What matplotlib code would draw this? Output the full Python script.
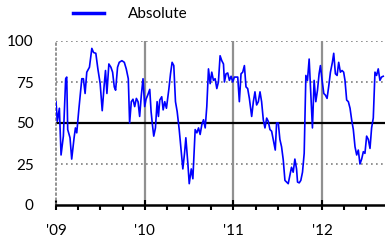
import matplotlib
matplotlib.use('Agg')
import matplotlib.pyplot as plt
from matplotlib.ticker import FixedLocator, MultipleLocator

plt.rcParams['font.family'] = ['Lato', 'DejaVu Sans']

# time in decimal years
years = [
    2009.000, 2009.015, 2009.038, 2009.057, 2009.083, 2009.109, 2009.121, 2009.132,
    2009.158, 2009.177, 2009.204, 2009.219, 2009.234, 2009.257, 2009.291, 2009.309,
    2009.328, 2009.347, 2009.377, 2009.404, 2009.423, 2009.449, 2009.472, 2009.498,
    2009.521, 2009.543, 2009.558, 2009.574, 2009.596, 2009.619, 2009.638, 2009.657,
    2009.672, 2009.694, 2009.713, 2009.743, 2009.770, 2009.792, 2009.815, 2009.830,
    2009.849, 2009.868, 2009.887, 2009.906, 2009.925, 2009.943, 2009.962, 2009.981,
    2010.000, 2010.015, 2010.034, 2010.057, 2010.072, 2010.087, 2010.102, 2010.121,
    2010.140, 2010.155, 2010.170, 2010.192, 2010.208, 2010.226, 2010.245, 2010.272,
    2010.291, 2010.309, 2010.328, 2010.347, 2010.366, 2010.389, 2010.411, 2010.430,
    2010.449, 2010.464, 2010.487, 2010.502, 2010.525, 2010.543, 2010.551, 2010.569,
    2010.588, 2010.607, 2010.625, 2010.644, 2010.663, 2010.682, 2010.700, 2010.719,
    2010.738, 2010.756, 2010.775, 2010.794, 2010.813, 2010.831, 2010.850, 2010.869,
    2010.888, 2010.899, 2010.917, 2010.936, 2010.955, 2010.974, 2010.992, 2011.011,
    2011.030, 2011.049, 2011.067, 2011.086, 2011.105, 2011.124, 2011.142, 2011.161,
    2011.180, 2011.206, 2011.225, 2011.243, 2011.262, 2011.281, 2011.300, 2011.318,
    2011.337, 2011.356, 2011.375, 2011.393, 2011.412, 2011.431, 2011.449, 2011.472,
    2011.487, 2011.506, 2011.524, 2011.543, 2011.562, 2011.581, 2011.599, 2011.618,
    2011.637, 2011.655, 2011.674, 2011.693, 2011.712, 2011.723, 2011.742, 2011.760,
    2011.779, 2011.798, 2011.817, 2011.835, 2011.854, 2011.873, 2011.891, 2011.910,
    2011.929, 2011.948, 2011.966, 2011.981, 2012.000, 2012.019, 2012.037, 2012.056,
    2012.075, 2012.094, 2012.116, 2012.131, 2012.150, 2012.169, 2012.187, 2012.206,
    2012.225, 2012.243, 2012.258, 2012.277, 2012.296, 2012.315, 2012.333, 2012.352,
    2012.371, 2012.390, 2012.408, 2012.427, 2012.446, 2012.465, 2012.483, 2012.502,
    2012.521, 2012.540, 2012.558, 2012.577, 2012.596, 2012.614, 2012.633, 2012.652,
    2012.670, 2012.689,
]
absolute = [
    63, 51, 59, 30.5, 42, 77, 78, 46,
    41, 28, 41, 47, 44, 58, 77, 77,
    68, 81, 84, 95.5, 93, 92.5, 83, 74,
    57.5, 73, 82, 68, 86, 84, 81, 72,
    70, 84, 87, 88, 87, 83, 77, 50,
    63, 64.5, 60, 65, 63, 54, 67, 77,
    60, 64.5, 67, 70.5, 57, 49, 42, 47,
    63, 54, 64, 66, 58, 63, 59, 70.5,
    80, 87, 85, 63, 57, 46, 33.5, 22,
    31.5, 41, 25, 13, 22, 16, 25, 46,
    44, 47, 43, 49, 52, 47, 60, 83,
    74, 81, 76, 77, 71, 75, 91, 88,
    86, 75, 80, 80.5, 76, 78.5, 75, 78,
    78, 78, 63, 80, 81, 85, 72, 71,
    65, 54, 63, 69, 61, 63, 69, 63,
    52, 47, 53, 51, 46, 45, 40, 33.5,
    50, 50, 40, 35.5, 27.5, 15, 14, 13,
    18, 23, 20, 28, 22, 14, 13.5, 15,
    20, 31.5, 79, 76, 89, 68, 47, 76,
    63, 70, 80, 85, 76, 68, 67, 65,
    72.5, 81, 87, 92.5, 80, 79, 87, 81,
    82, 81, 76, 64, 63, 59, 52, 46,
    35.5, 30.5, 33.5, 25, 28, 32.5, 31.5, 42,
    40, 34.5, 47, 53, 81, 79, 83, 76,
    78, 78.5,
]
year_ticks = [2009, 2010, 2011, 2012]
year_labels = ["'09", "'10", "'11", "'12"]

fig = plt.figure(figsize=(3.85, 2.48), dpi=100)
ax = fig.add_axes([56/385, 1-205/248, 1-56/385, 164/248])

for y in [25, 75, 100]:
    ax.axhline(y, color='#808080', lw=1.2, ls=(0, (1, 2)), zorder=1)
for x in year_ticks[1:]:
    ax.axvline(x, color='#909090', lw=1.6, zorder=1)
ax.axhline(50, color='black', lw=1.6, zorder=2)

ax.plot(years, absolute, color='#0000ff', lw=1.2, label='Absolute', zorder=3)

ax.set_xlim(2009, 2009 + (385-56)/88.7)
ax.set_ylim(0, 100)
ax.set_yticks([0, 25, 50, 75, 100])
ax.tick_params(axis='y', length=0, pad=16, labelsize=11)

ax.xaxis.set_major_locator(FixedLocator(year_ticks))
ax.xaxis.set_minor_locator(MultipleLocator(0.25))
ax.set_xticklabels(year_labels)
ax.tick_params(axis='x', which='major', direction='inout', length=7, width=1.5, pad=10, labelsize=11)
ax.tick_params(axis='x', which='minor', direction='out', length=3.5, width=1.5)

for s in ['top', 'right']:
    ax.spines[s].set_visible(False)
ax.spines['bottom'].set_linewidth(1.8)
ax.spines['left'].set_color('#808080')
ax.spines['left'].set_linestyle((0, (1, 2)))
ax.spines['left'].set_linewidth(1.2)

leg = ax.legend(loc='center left', bbox_to_anchor=(73/385, 1-14/248), bbox_transform=fig.transFigure,
                frameon=False, fontsize=11, handlelength=2.0, handletextpad=1.6,
                borderpad=0, borderaxespad=0)
for h in leg.get_lines():
    h.set_linewidth(2.5)

fig.savefig('out.png', dpi=100)
